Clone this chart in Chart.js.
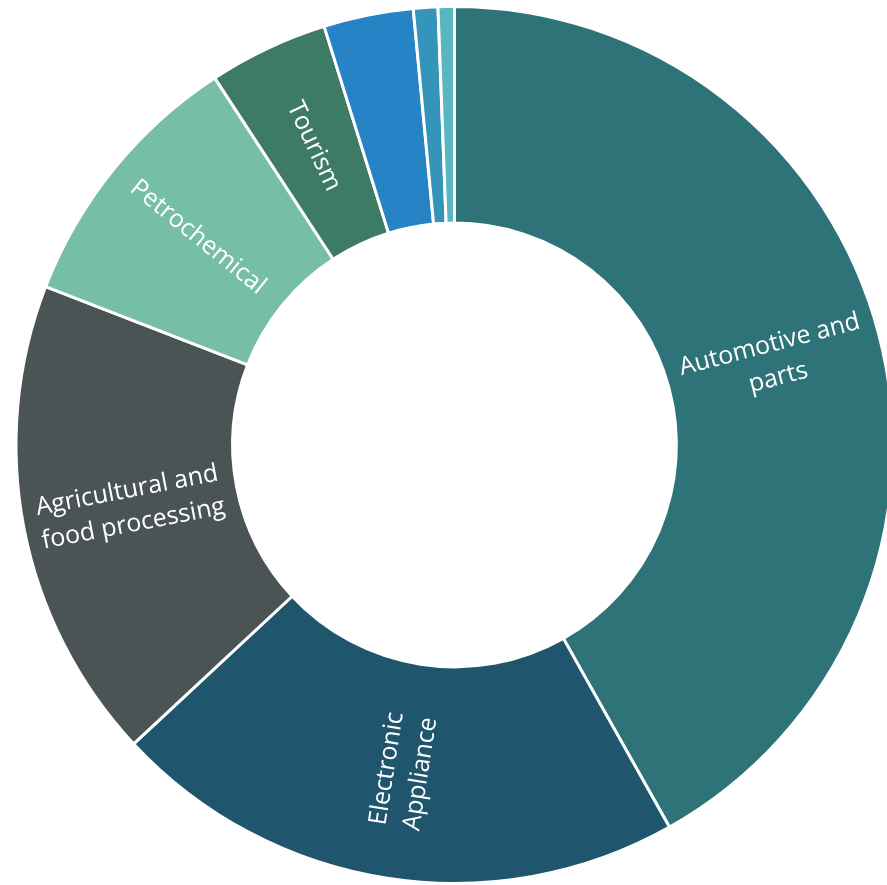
<!DOCTYPE html>
<html>
<head>
<meta charset="utf-8">
<script src="https://cdn.jsdelivr.net/npm/chart.js@4"></script>
<style>
  html, body { margin: 0; padding: 0; background: #fff; overflow: hidden; }
  #wrap { width: 900px; height: 885px; }
</style>
</head>
<body>
<div id="wrap"><canvas id="donut"></canvas></div>
<script>
const categories = ['Automotive and parts', 'Electronic Appliance', 'Agricultural and food processing',
  'Petrochemical', 'Tourism', 'Others', 'Textile', 'Logistics'];
const shares = [41.8, 21.2, 17.8, 9.9, 4.4, 3.3, 0.9, 0.6];
// lines drawn inside each slice, null = no label
const sliceLabels = [['Automotive and', 'parts'], ['Electronic', 'Appliance'], ['Agricultural and', 'food processing'],
  ['Petrochemical'], ['Tourism'], null, null, null];
const colors = ['#2E7378', '#1F566E', '#4A5455', '#76BEA6', '#3D7B64', '#2683C6', '#3494BA', '#58B6C0'];

const donut = document.getElementById('donut')

const sliceLabelPlugin = {
  id: 'sliceLabels',
  afterDatasetsDraw(chart) {
    const ctx = chart.ctx;
    const arcs = chart.getDatasetMeta(0).data;
    ctx.save();
    ctx.fillStyle = '#fff';
    ctx.font = '25px "Open Sans"';
    ctx.textAlign = 'center';
    ctx.textBaseline = 'middle';
    arcs.forEach((arc, i) => {
      const lines = sliceLabels[i];
      if (!lines) return;
      const {x, y, startAngle, endAngle, innerRadius, outerRadius} = arc.getProps(
        ['x', 'y', 'startAngle', 'endAngle', 'innerRadius', 'outerRadius'], true);
      const mid = (startAngle + endAngle) / 2;
      const r = (innerRadius + outerRadius) / 2;
      let rot = mid;
      if (Math.cos(mid) < 0) rot += Math.PI;
      ctx.save();
      ctx.translate(x + Math.cos(mid) * r, y + Math.sin(mid) * r);
      ctx.rotate(rot);
      const lh = 34;
      lines.forEach((line, k) => {
        ctx.fillText(line, 0, (k - (lines.length - 1) / 2) * lh);
      });
      ctx.restore();
    });
    ctx.restore();
  }
};

new Chart(donut, {
  type: 'doughnut',
  data: {
    labels: categories,
    datasets: [{
      data: shares,
      backgroundColor: colors,
      borderColor: '#fff',
      borderWidth: 3,
    }]
  },
  options: {
    responsive: true,
    maintainAspectRatio: false,
    animation: false,
    cutout: '50.6%',
    layout: {
      padding: { left: 14, right: 5, top: 5, bottom: 0 }
    },
    plugins: {
      legend: { display: false },
      tooltip: { enabled: false }
    }
  },
  plugins: [sliceLabelPlugin]
})
</script>
</body>
</html>
